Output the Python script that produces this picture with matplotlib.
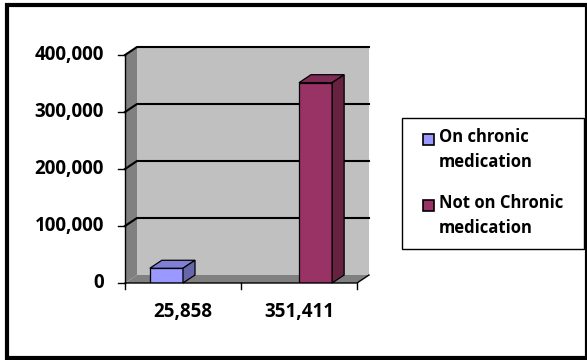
import matplotlib
matplotlib.use("Agg")
import matplotlib.pyplot as plt
from matplotlib.patches import Polygon, Rectangle
from matplotlib.transforms import IdentityTransform

categories = ["25,858", "351,411"]
series_names = ["On chronic\nmedication", "Not on Chronic\nmedication"]
on_chronic = [25858, 0]
not_on_chronic = [0, 351411]
y_ticks = [0, 100000, 200000, 300000, 400000]

front_colors = ["#9999FF", "#993366"]
top_colors = ["#7F7FD5", "#7F2A55"]
side_colors = ["#6666AA", "#66223F"]

W, H, DPI = 587, 360, 100
fig = plt.figure(figsize=(W / DPI, H / DPI), dpi=DPI)
fig.patch.set_facecolor("white")

ax = fig.add_axes([125 / W, (H - 283) / H, 232 / W, 228 / H])
ax.set_xlim(0, len(categories))
ax.set_ylim(0, 400000)
ax.axis("off")

font = ["Open Sans", "DejaVu Sans"]
FS_NUM = 13.5
FS_LEG = 12
DX, DY = 12, 8  # depth of the 3-D box in pixels
ident = IdentityTransform()


def px(x, y):
    return ax.transData.transform((x, y))


def poly(points, fc, ec="none", lw=0.0, z=1):
    ax.add_patch(Polygon(points, closed=True, facecolor=fc, edgecolor=ec,
                         linewidth=lw, transform=ident, zorder=z, clip_on=False))


x0, x1 = 0, len(categories)
y0, y1 = 0, 400000
# back wall
bl, br, tl = px(x0, y0), px(x1, y0), px(x0, y1)
tr = px(x1, y1)
poly([(bl[0] + DX, bl[1] + DY), (br[0] + DX, br[1] + DY),
      (tr[0] + DX, tr[1] + DY), (tl[0] + DX, tl[1] + DY)], "#C0C0C0", z=1)
# side wall
poly([bl, (bl[0] + DX, bl[1] + DY), (tl[0] + DX, tl[1] + DY), tl], "#808080", z=1)
# floor
poly([bl, br, (br[0] + DX, br[1] + DY), (bl[0] + DX, bl[1] + DY)], "#808080", z=1)

# gridlines across side wall and back wall
for v in y_ticks[1:]:
    a = px(x0, v)
    b = px(x1, v)
    ax.plot([a[0], a[0] + DX, b[0] + DX], [a[1], a[1] + DY, b[1] + DY],
            color="black", lw=1.5, transform=ident, zorder=2, clip_on=False)

# bars
n_series = 2
gap = 1.5
bw = 1.0 / (n_series + gap)
for s, vals in enumerate([on_chronic, not_on_chronic]):
    for c, v in enumerate(vals):
        if v <= 0:
            continue
        left = c + gap * bw / 2 + s * bw
        ax.bar(left, v, width=bw, align="edge", color=front_colors[s],
               edgecolor="black", linewidth=0.9, zorder=5)
        p10 = px(left + bw, 0)
        p01, p11 = px(left, v), px(left + bw, v)
        poly([p01, p11, (p11[0] + DX, p11[1] + DY), (p01[0] + DX, p01[1] + DY)],
             top_colors[s], "black", 0.9, z=6)
        poly([p10, p11, (p11[0] + DX, p11[1] + DY), (p10[0] + DX, p10[1] + DY)],
             side_colors[s], "black", 0.9, z=6)

# axes lines and ticks
a0, a1 = px(x0, y0), px(x0, y1)
ax.plot([a0[0], a1[0]], [a0[1], a1[1]], color="black", lw=1.0, transform=ident,
        zorder=7, clip_on=False)
ax.plot([a0[0], br[0], br[0] + DX], [a0[1], br[1], br[1] + DY], color="black",
        lw=1.0, transform=ident, zorder=7, clip_on=False)
for v in y_ticks:
    p = px(x0, v)
    ax.plot([p[0] - 7, p[0]], [p[1], p[1]], color="black", lw=1.0,
            transform=ident, zorder=7, clip_on=False)
    ax.text(p[0] - 21, p[1], f"{v:,}", ha="right", va="center",
            fontsize=FS_NUM, fontweight="bold", family=font, transform=ident)
for c in range(len(categories) + 1):
    p = px(c, 0)
    ax.plot([p[0], p[0]], [p[1], p[1] - 6], color="black", lw=1.0,
            transform=ident, zorder=7, clip_on=False)
for c, lab in enumerate(categories):
    p = px(c + 0.5, 0)
    ax.text(p[0], p[1] - 29, lab, ha="center", va="center", fontsize=FS_NUM,
            fontweight="bold", family=font, transform=ident)

# legend
fig.add_artist(Rectangle((402 / W, (H - 249) / H), 182 / W, 131 / H,
                         transform=fig.transFigure, facecolor="white",
                         edgecolor="black", linewidth=1.0))
legend_y = [139, 205]
for s, name in enumerate(series_names):
    yc = legend_y[s]
    fig.add_artist(Rectangle((423 / W, (H - yc - 6) / H), 11 / W, 11 / H,
                             transform=fig.transFigure, facecolor=front_colors[s],
                             edgecolor="black", linewidth=1.2))
    fig.text(439 / W, (H - yc + 11) / H, name, ha="left", va="top",
             fontsize=FS_LEG, fontweight="bold", family=font, linespacing=1.5)

# outer frame
fig.add_artist(Rectangle((7 / W, 2 / H), 580 / W, 353 / H,
                         transform=fig.transFigure, facecolor="none",
                         edgecolor="black", linewidth=3.0))

fig.savefig("out.png", dpi=DPI)
